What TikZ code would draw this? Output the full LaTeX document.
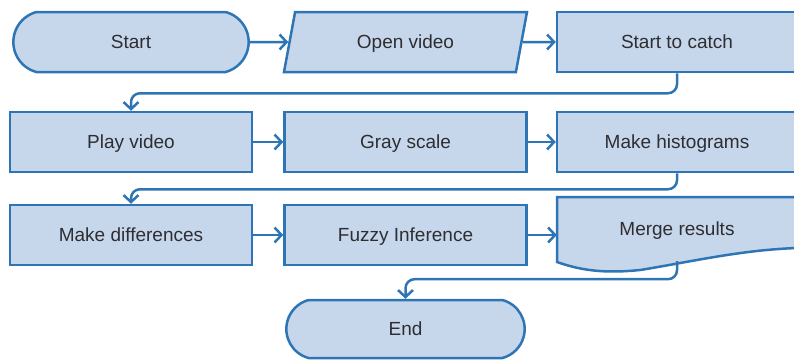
\documentclass[tikz,border=0pt]{standalone}
\usepackage{fontspec}
\setmainfont{Liberation Sans}
\usepackage{tikz}
\usetikzlibrary{arrows.meta}
\usetikzlibrary{positioning, shapes.geometric, shapes.misc}
\definecolor{boxfill}{RGB}{199,215,235}
\definecolor{boxline}{RGB}{46,117,182}
\definecolor{boxtext}{RGB}{45,45,50}
\tikzset{
  chart/.style={draw=boxline, fill=boxfill, line width=2.5pt, text=boxtext,
    font=\fontsize{19}{23}\selectfont, text height=16pt, text depth=3pt, minimum height=60pt},
  terminal/.style={chart, rounded rectangle, rounded rectangle arc length=150, minimum width=242pt},
  io/.style={chart, trapezium, trapezium left angle=66.6, trapezium right angle=113.4,
    trapezium stretches body, minimum width=243pt},
  process/.style={chart, rectangle, minimum width=242pt},
  docbox/.style={minimum width=240pt, minimum height=64pt, text=boxtext,
    font=\fontsize{19}{23}\selectfont, text height=16pt, text depth=3pt},
  flow/.style={draw=boxline, line width=2.5pt, -{Straight Barb[length=7pt,width=15pt]}, rounded corners=9pt},
}

\begin{document}
\begin{tikzpicture}[x=1pt,y=1pt]
        \useasboundingbox (0,0) rectangle (794,-360);
        % first row
        \node[terminal] (start) at (131,-42) {Start};
        \node[io] (open) at (405.5,-42) {Open video};
        \node[process, minimum width=240pt] (catch) at (677,-42) {Start to catch};
        % second row
        \node[process] (play) at (131,-142) {Play video};
        \node[process] (gray) at (405.5,-142) {Gray scale};
        \node[process, minimum width=240pt] (hist) at (677,-142) {Make histograms};
        % third row
        \node[process] (diff) at (131,-235) {Make differences};
        \node[process] (fuzzy) at (405.5,-235) {Fuzzy Inference};
        \draw[chart] (557,-197) -- (797,-197) -- (797,-248)
          .. controls (740,-250) and (690,-262) .. (640,-270)
          .. controls (610,-273) and (585,-272) .. (557,-262) -- cycle;
        \node[docbox] (merge) at (677,-229) {Merge results};
        \node[terminal, minimum height=58pt, minimum width=245pt] (end) at (405.5,-329) {End};

        \draw[flow] (start) -- (open);
        \draw[flow] (open) -- (catch);
        \draw[flow] (catch.south) -- ++(0,-20) -| (play.north);
        \draw[flow] (play) -- (gray);
        \draw[flow] (gray) -- (hist);
        \draw[flow] (hist.south) -- ++(0,-16) -| (diff.north);
        \draw[flow] (diff) -- (fuzzy);
        \draw[flow] (fuzzy.east) -- (fuzzy.east -| merge.west);
        \draw[flow] (merge.south) -- ++(0,-18) -| (end.north);
\end{tikzpicture}
\end{document}
